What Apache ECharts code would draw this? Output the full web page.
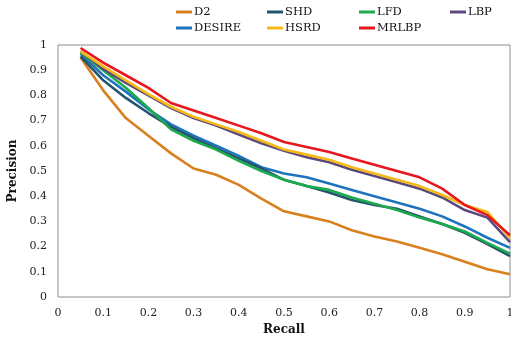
<!DOCTYPE html>
<html>
<head>
<meta charset="utf-8">
<script src="https://cdn.jsdelivr.net/npm/echarts@6/dist/echarts.min.js"></script>
<style>html,body{margin:0;padding:0;background:#fff}#c{width:511px;height:340px}</style>
</head>
<body>
<div id="c"></div>
<script>
var recall = [0.05,0.1,0.15,0.2,0.25,0.3,0.35,0.4,0.45,0.5,0.55,0.6,0.65,0.7,0.75,0.8,0.85,0.9,0.95,1.0];
var xTicks = ['0','0.1','0.2','0.3','0.4','0.5','0.6','0.7','0.8','0.9','1'];
var yTicks = ['0','0.1','0.2','0.3','0.4','0.5','0.6','0.7','0.8','0.9','1'];
var D2     = [0.95,0.82,0.71,0.64,0.57,0.51,0.485,0.445,0.39,0.34,0.32,0.30,0.265,0.24,0.22,0.195,0.17,0.14,0.11,0.09];
var DESIRE = [0.965,0.88,0.815,0.745,0.685,0.64,0.6,0.56,0.515,0.49,0.475,0.45,0.425,0.4,0.375,0.35,0.32,0.28,0.235,0.195];
var SHD    = [0.955,0.86,0.79,0.73,0.675,0.63,0.59,0.55,0.51,0.465,0.44,0.415,0.385,0.365,0.35,0.32,0.29,0.255,0.21,0.162];
var LFD    = [0.97,0.9,0.83,0.75,0.665,0.62,0.585,0.54,0.5,0.465,0.44,0.425,0.395,0.37,0.345,0.315,0.29,0.26,0.215,0.172];
var LBP    = [0.975,0.905,0.85,0.8,0.75,0.71,0.68,0.645,0.61,0.58,0.555,0.535,0.505,0.48,0.455,0.43,0.395,0.345,0.315,0.218];
var HSRD   = [0.975,0.915,0.86,0.805,0.755,0.715,0.685,0.655,0.62,0.585,0.565,0.545,0.515,0.49,0.465,0.44,0.405,0.365,0.337,0.235];
var MRLBP  = [0.988,0.93,0.88,0.83,0.77,0.74,0.71,0.68,0.65,0.615,0.595,0.575,0.55,0.525,0.5,0.475,0.43,0.365,0.325,0.245];

var names  = ['D2','DESIRE','SHD','LFD','LBP','HSRD','MRLBP'];
var values = [D2,DESIRE,SHD,LFD,LBP,HSRD,MRLBP];
var colors = ['#D9801E','#1E74BC','#23546F','#1BAA4C','#5C4A7C','#F6B915','#E8161D'];
var legendPos = {D2:[176,6],SHD:[267,6],LFD:[359,6],LBP:[450,6],DESIRE:[176,22],HSRD:[267,22],MRLBP:[359,22]};

var font = 'DejaVu Serif';
function pairs(arr){ return arr.map(function(v,i){ return [recall[i], v]; }); }

var series = names.map(function(n,i){
  return {name:n,type:'line',data:pairs(values[i]),symbol:'none',smooth:false,
    lineStyle:{width:2.6,color:colors[i]},itemStyle:{color:colors[i]},z:2+i};
});

var legends = names.map(function(n){
  return {data:[n],left:legendPos[n][0],top:legendPos[n][1],icon:'rect',itemWidth:16,itemHeight:3,
    textStyle:{fontFamily:font,fontSize:11.5,color:'#111',padding:[0,0,0,-3]},padding:0};
});

var chart = echarts.init(document.getElementById('c'),null,{renderer:'canvas'});
chart.setOption({
  animation:false,
  backgroundColor:'#fff',
  legend:legends,
  grid:{left:58,right:1,top:45,bottom:43,show:true,borderColor:'#8c8c8c',borderWidth:1,containLabel:false,outerBoundsMode:'none'},
  xAxis:{type:'value',min:0,max:1,interval:0.1,
    name:'Recall',nameLocation:'middle',nameGap:25,
    nameTextStyle:{fontFamily:font,fontWeight:'bold',fontSize:12,color:'#111'},
    axisLine:{show:false},axisTick:{show:false},splitLine:{show:false},
    axisLabel:{fontFamily:font,fontSize:11,color:'#222',margin:11,
      formatter:function(v){ return xTicks[Math.round(v*10)]; }}},
  yAxis:{type:'value',min:0,max:1,interval:0.1,
    name:'Precision',nameLocation:'middle',nameGap:38,nameRotate:90,
    nameTextStyle:{fontFamily:font,fontWeight:'bold',fontSize:12,color:'#111'},
    axisLine:{show:false},axisTick:{show:false},splitLine:{show:false},
    axisLabel:{fontFamily:font,fontSize:11,color:'#222',margin:11,
      formatter:function(v){ return yTicks[Math.round(v*10)]; }}},
  series:series
});
</script>
</body>
</html>
